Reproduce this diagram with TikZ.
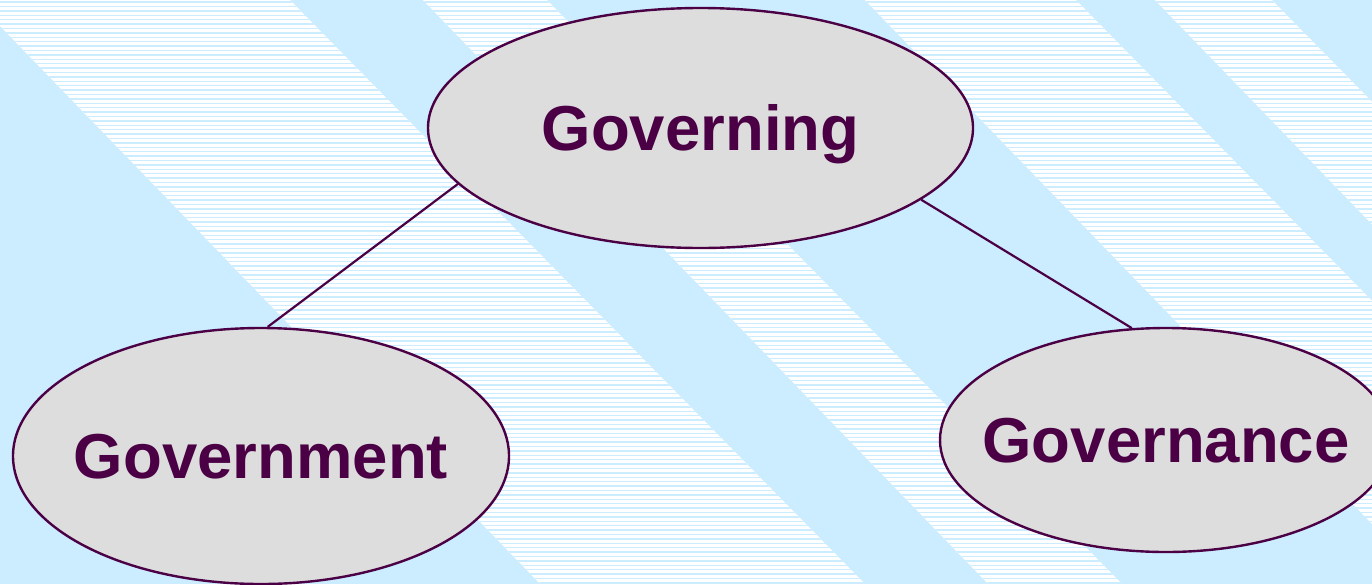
\documentclass[tikz,border=0pt]{standalone}
\usepackage{fontspec}
\setmainfont{Liberation Sans}
\usetikzlibrary{shapes.geometric}
\definecolor{bgblue}{HTML}{CCECFF}
\definecolor{nodefill}{HTML}{DDDDDD}
\definecolor{deeppurple}{HTML}{4B0045}
\newcommand{\bandpaths}{
  (-30,-5) -- (285,-5) -- (870,589) -- (545,589) -- cycle
  (418,-5) -- (542,-5) -- (1127,589) -- (993,589) -- cycle
  (860,-5) -- (1071,-5) -- (1656,589) -- (1435,589) -- cycle
  (1150,-5) -- (1267,-5) -- (1852,589) -- (1725,589) -- cycle}
\begin{document}
\begin{tikzpicture}[x=1pt,y=-1pt,
  bubble/.style={ellipse, draw=deeppurple, line width=2.4pt, fill=nodefill,
    inner sep=0pt, text=deeppurple,
    font=\fontsize{63.5}{70}\selectfont\bfseries,
    text height=45pt, text depth=0pt},
  link/.style={draw=deeppurple, line width=2.2pt},
  hatchline/.style={draw=bgblue, line width=1.4pt}]
\useasboundingbox (0,0) rectangle (1372,584);
\fill[bgblue] (0,0) rectangle (1372,584);
\begin{scope}
  \clip (0,0) rectangle (1372,584);
  \fill[white] \bandpaths;
  \clip \bandpaths;
  \foreach \k in {0,...,133}
    \draw[hatchline] (0,{2.1+\k*4.4}) -- (1372,{2.1+\k*4.4});
\end{scope}
\node[bubble, minimum width=545pt, minimum height=240pt] (governing) at (700.5,128) {\makebox[0pt]{Governing}};
\node[bubble, minimum width=496pt, minimum height=256pt] (government) at (261,456) {\makebox[0pt]{Government}};
\node[bubble, minimum width=452pt, minimum height=224pt] (governance) at (1166,440) {\makebox[0pt]{Governance}};
\draw[link] (governing.193.6) -- (government.87);
\draw[link] (governing.342.1) -- (governance.107);
\end{tikzpicture}
\end{document}
